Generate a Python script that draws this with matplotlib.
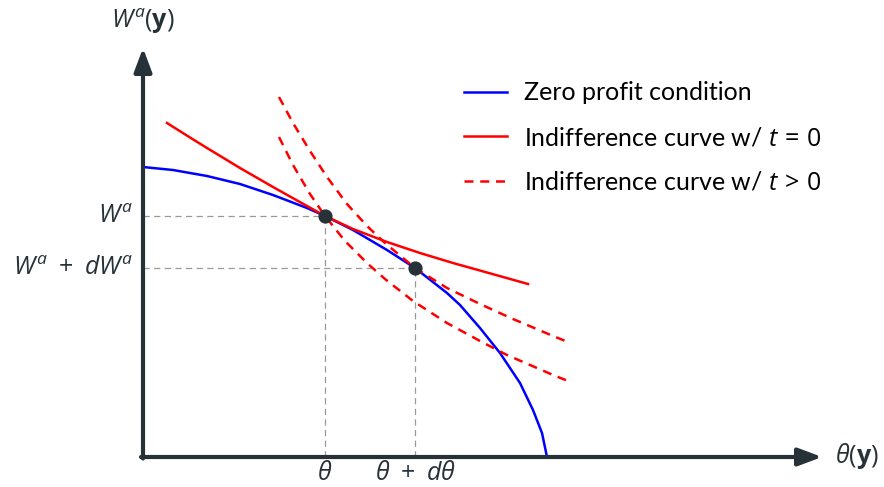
import matplotlib
matplotlib.use('Agg')
import matplotlib.pyplot as plt
from matplotlib.lines import Line2D

plt.rcParams['mathtext.fontset'] = 'custom'
plt.rcParams['mathtext.rm'] = 'Open Sans'
plt.rcParams['mathtext.it'] = 'Open Sans:italic'
plt.rcParams['mathtext.bf'] = 'Open Sans:bold'

AXIS = '#263238'

# zero profit condition
zp_x = [0.00, 0.30, 0.64, 0.97, 1.30, 1.64, 1.82, 2.10, 2.44, 2.72, 3.04, 3.17,
        3.37, 3.57, 3.77, 3.90, 3.99, 4.04]
zp_y = [2.90, 2.87, 2.81, 2.73, 2.62, 2.49, 2.41, 2.27, 2.07, 1.89, 1.64, 1.52,
        1.29, 1.04, 0.74, 0.47, 0.24, 0.00]

# indifference curve, t = 0
ic0_x = [0.24, 0.47, 0.64, 0.97, 1.30, 1.64, 1.82, 2.10, 2.44, 2.77, 3.10, 3.44, 3.85]
ic0_y = [3.34, 3.195, 3.09, 2.89, 2.70, 2.51, 2.41, 2.28, 2.15, 2.04, 1.94, 1.845, 1.73]

# indifference curves, t > 0
ic1_x = [1.36, 1.50, 1.67, 1.84, 2.04, 2.24, 2.42, 2.72, 3.04, 3.37, 3.70, 4.10, 4.25]
ic1_y = [3.60, 3.34, 3.06, 2.80, 2.53, 2.31, 2.14, 1.89, 1.69, 1.53, 1.38, 1.21, 1.15]
ic2_x = [1.36, 1.50, 1.67, 1.82, 2.02, 2.24, 2.42, 2.70, 3.04, 3.37, 3.64, 4.10, 4.25]
ic2_y = [3.20, 2.92, 2.63, 2.41, 2.16, 1.94, 1.78, 1.56, 1.34, 1.16, 1.02, 0.82, 0.76]

# equilibrium points
pts_x = [1.82, 2.72]
pts_y = [2.41, 1.89]
xtick_labels = [r'$\theta$', r'$\theta\ +\ d\theta$']
ytick_labels = [r'$W^a$', r'$W^a\ +\ dW^a$']

fig = plt.figure(figsize=(8.84, 4.87), dpi=100)
ax = fig.add_axes([0, 0, 1, 1])
ax.set_xlim(-1.43, 7.41)
ax.set_ylim(-0.30, 4.57)
ax.axis('off')

# guide lines to the axes
for x, y in zip(pts_x, pts_y):
    ax.plot([0, x], [y, y], color='#999999', lw=0.9, dashes=(5, 3.5), zorder=1)
    ax.plot([x, x], [0, y], color='#999999', lw=0.9, dashes=(5, 3.5), zorder=1)

ax.plot(zp_x, zp_y, color='#0000ff', lw=1.8, zorder=3, solid_joinstyle='round')
ax.plot(ic0_x, ic0_y, color='#ff0000', lw=1.8, zorder=3, solid_joinstyle='round')
ax.plot(ic1_x, ic1_y, color='#ff0000', lw=1.8, dashes=(3.6, 2.7), zorder=3)
ax.plot(ic2_x, ic2_y, color='#ff0000', lw=1.8, dashes=(3.6, 2.7), zorder=3)
ax.scatter(pts_x, pts_y, s=85, color=AXIS, zorder=5)

# axes with arrow heads
arrow = dict(arrowstyle='-|>,head_length=0.8,head_width=0.3', lw=3, color=AXIS,
             mutation_scale=18, shrinkA=0, shrinkB=0)
ax.annotate('', xy=(6.79, 0), xytext=(-0.02, 0), arrowprops=arrow, zorder=4)
ax.annotate('', xy=(0, 4.09), xytext=(0, -0.015), arrowprops=arrow, zorder=4)

for x, s in zip(pts_x, xtick_labels):
    ax.text(x, -0.16, s, ha='center', va='center', fontsize=18, color=AXIS)
for y, s in zip(pts_y, ytick_labels):
    ax.text(-0.10, y, s, ha='right', va='center', fontsize=18, color=AXIS)
ax.text(0, 4.36, r'$W^a(\mathbf{y})$', ha='center', va='center', fontsize=18, color=AXIS)
ax.text(6.92, 0.01, r'$\theta(\mathbf{y})$', ha='left', va='center', fontsize=18, color=AXIS)

handles = [Line2D([], [], color='#0000ff', lw=1.8),
           Line2D([], [], color='#ff0000', lw=1.8),
           Line2D([], [], color='#ff0000', lw=1.8, dashes=(3.6, 2.7))]
labels = ['Zero profit condition', r'Indifference curve w/ $t\,=\,0$',
          r'Indifference curve w/ $t\,>\,0$']
ax.legend(handles, labels, loc='upper left', bbox_to_anchor=(441 / 884, 1 - 59 / 487),
          frameon=False, handlelength=1.72, handletextpad=0.68,
          labelspacing=0.86, prop={'family': 'Lato', 'size': 18})

fig.savefig('out.png', dpi=100)
